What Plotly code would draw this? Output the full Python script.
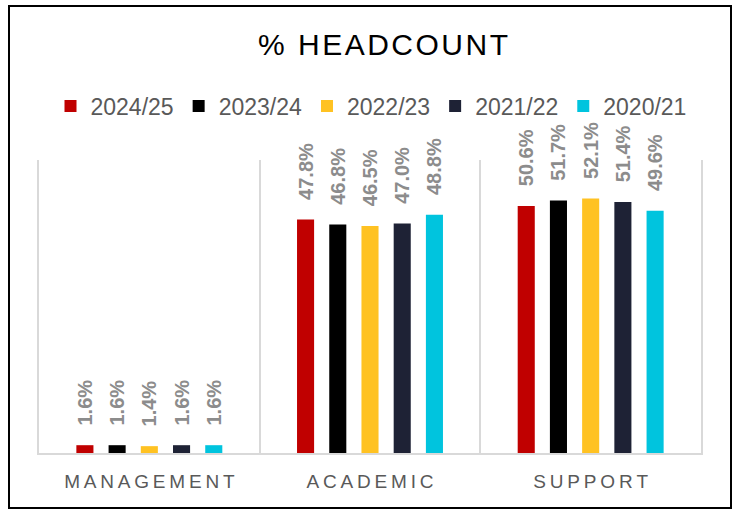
import plotly.graph_objects as go

categories = ["MANAGEMENT", "ACADEMIC", "SUPPORT"]
series_names = ["2024/25", "2023/24", "2022/23", "2021/22", "2020/21"]
values_2024_25 = [1.6, 47.8, 50.6]
values_2023_24 = [1.6, 46.8, 51.7]
values_2022_23 = [1.4, 46.5, 52.1]
values_2021_22 = [1.6, 47.0, 51.4]
values_2020_21 = [1.6, 48.8, 49.6]
series_values = [values_2024_25, values_2023_24, values_2022_23, values_2021_22, values_2020_21]
colors = ["#C00000", "#000000", "#FFC222", "#1E2235", "#00C4DE"]

TS = "\u2009"  # thin space for letter spacing
HS = "\u200a"  # hair space


def spaced(s, sep):
    return sep.join(list(s))


cat_labels = [spaced(c, TS) for c in categories]

fig = go.Figure()
for name, vals, col in zip(series_names, series_values, colors):
    fig.add_trace(go.Bar(
        name=name,
        x=cat_labels,
        y=vals,
        marker=dict(color=col, line=dict(width=0)),
        texttemplate="\u00a0\u00a0\u00a0%{y:.1f}%",
        textposition="outside",
        textangle=-90,
        constraintext="none",
        cliponaxis=False,
        textfont=dict(family="Liberation Sans, Arial, sans-serif", size=20, color="#8C8C8C", weight="bold"),
    ))

L, R, T, B = 39, 37, 160, 57
W, H = 738, 510
pw, ph = W - L - R, H - T - B

fig.update_layout(
    width=W, height=H,
    margin=dict(l=L, r=R, t=T, b=B, pad=0),
    paper_bgcolor="white",
    plot_bgcolor="white",
    barmode="group",
    bargap=0.27,
    bargroupgap=0.47,
    hovermode=False,
    title=dict(
        text=spaced("% HEADCOUNT", HS),
        x=383 / W, xref="container", xanchor="center",
        y=1 - 44 / H, yref="container", yanchor="middle",
        font=dict(family="Liberation Sans, Arial, sans-serif", size=30, color="#000000"),
    ),
    legend=dict(
        orientation="h",
        x=(371 - L) / pw, xanchor="center",
        y=(H - B - 106) / ph, yanchor="middle",
        font=dict(family="Liberation Sans, Arial, sans-serif", size=23, color="#595959"),
        bgcolor="rgba(0,0,0,0)",
        itemwidth=30,
        traceorder="normal",
    ),
    showlegend=True,
    xaxis=dict(
        type="category",
        tickson="boundaries",
        showgrid=True,
        gridcolor="#D9D9D9",
        gridwidth=1.5,
        showline=True,
        linecolor="#D9D9D9",
        linewidth=2,
        ticks="",
        ticklabelstandoff=10,
        tickfont=dict(family="Liberation Sans, Arial, sans-serif", size=19, color="#595959"),
    ),
    yaxis=dict(
        range=[0, 60],
        showgrid=False,
        zeroline=False,
        showticklabels=False,
        showline=True,
        mirror=True,
        linecolor="#D9D9D9",
        linewidth=1.5,
        ticks="",
    ),
    shapes=[dict(
        type="rect", xref="paper", yref="paper",
        x0=(9 - L) / pw, x1=(731 - L) / pw,
        y0=(H - B - 508) / ph, y1=(H - B - 6) / ph,
        line=dict(color="#000000", width=2),
        fillcolor="rgba(0,0,0,0)",
        layer="below",
    )],
)

fig.write_html("out.html", config={"displayModeBar": False},
               post_script="document.body.style.margin='0';")
